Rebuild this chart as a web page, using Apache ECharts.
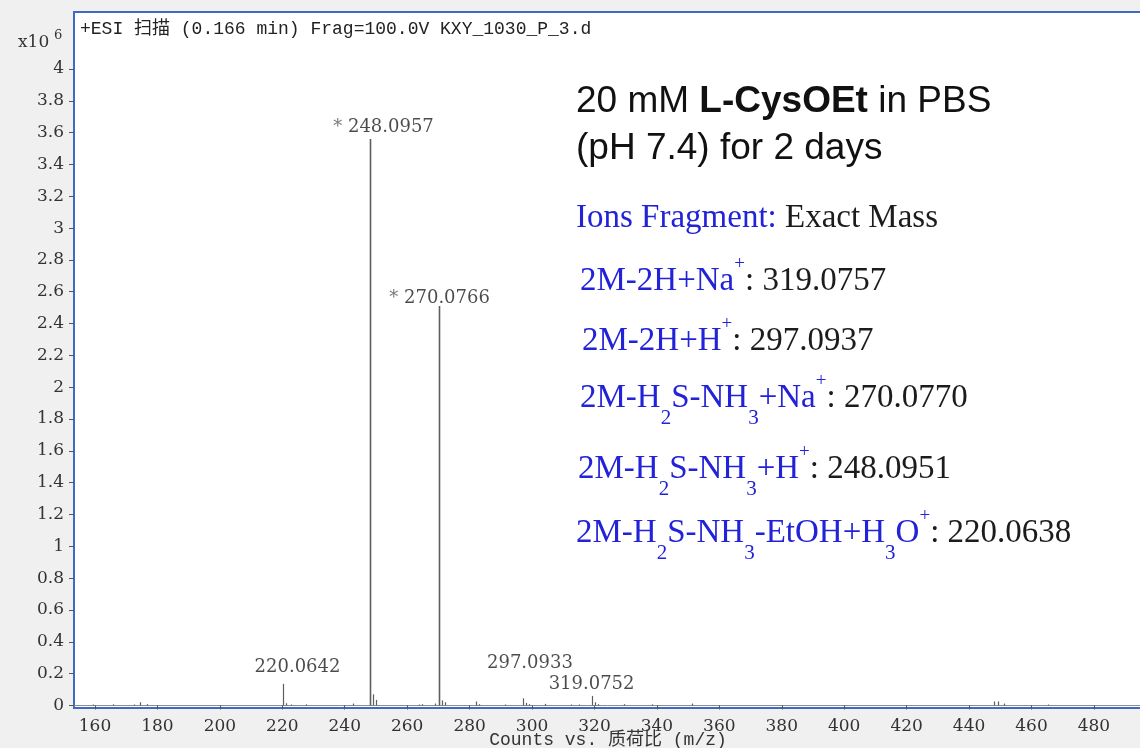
<!DOCTYPE html>
<html>
<head>
<meta charset="utf-8">
<script src="https://cdn.jsdelivr.net/npm/echarts@6/dist/echarts.min.js"></script>
<style>
  html, body { margin: 0; padding: 0; background: #f0f0f0; }
  #main { width: 1140px; height: 748px; }
</style>
</head>
<body>
<div id="main"></div>
<script>
// Centroided peaks of the ESI(+) scan: m/z and abundance (counts x10^6)
const mzValues = [
  159.5, 165.7, 172.5, 174.4, 176.6,
  220.0642, 221.07, 222.9, 227.6, 242.6,
  248.0957, 249.10, 250.09, 263.9, 264.7, 268.9,
  270.0766, 271.08, 272.07, 282.1, 283.1, 291.3,
  297.0933, 298.1, 299.1, 304.2, 312.6, 315.0,
  319.0752, 320.08, 321.1, 329.4, 338.5, 351.3,
  448.1, 449.2, 451.1, 465.4
];
const intensities = [
  0.006, 0.007, 0.006, 0.020, 0.008,
  0.136, 0.014, 0.006, 0.007, 0.012,
  3.56, 0.070, 0.035, 0.006, 0.008, 0.012,
  2.51, 0.032, 0.020, 0.025, 0.008, 0.006,
  0.045, 0.016, 0.008, 0.010, 0.006, 0.006,
  0.060, 0.020, 0.008, 0.008, 0.007, 0.012,
  0.025, 0.025, 0.012, 0.006
];

// Peaks that carry an m/z annotation; starred ones are the marked ions
const labeledMz = [220.0642, 248.0957, 270.0766, 297.0933, 319.0752];
const labeledStar = [false, true, true, false, false];

// Axis ticks
const xTicks = [160, 180, 200, 220, 240, 260, 280, 300, 320, 340, 360, 380, 400, 420, 440, 460, 480];
const yTicks = [0, 0.2, 0.4, 0.6, 0.8, 1, 1.2, 1.4, 1.6, 1.8, 2, 2.2, 2.4, 2.6, 2.8, 3, 3.2, 3.4, 3.6, 3.8, 4];

// Visible axis window
const xMin = 153.27, xMax = 495.4;
const yMin = -0.016, yMax = 4.358;

const peakData = mzValues.map((mz, i) => [mz, intensities[i]]);

// label placement around each annotated peak (px)
const labelOffsets = [[15, -16], [13.5, -12], [1, -7.5], [7, -35], [0, -12]];

const labelData = labeledMz.map((mz, i) => {
  const k = mzValues.indexOf(mz);
  return {
    value: [mz, intensities[k]],
    star: labeledStar[i],
    label: { offset: labelOffsets[i] }
  };
});

const serifFont = 'DejaVu Serif';
const blue = '#2222d8';
const ink = '#1c1c1c';

function formulaStyles() {
  return {
    a:   { fontFamily: 'Liberation Serif', fontSize: 33, lineHeight: 33, padding: [12, 0, 0, 0], verticalAlign: 'top', fill: blue, color: blue },
    b:   { fontFamily: 'Liberation Serif', fontSize: 33, lineHeight: 33, padding: [12, 0, 0, 0], verticalAlign: 'top', fill: ink, color: ink },
    sub: { fontFamily: 'Liberation Serif', fontSize: 21, lineHeight: 21, padding: [38, 0, 0, 0], verticalAlign: 'top', fill: blue, color: blue },
    sup: { fontFamily: 'Liberation Serif', fontSize: 19, lineHeight: 19, padding: [2, 0, 0, 0], verticalAlign: 'top', fill: blue, color: blue }
  };
}

function formulaLine(x, y, text) {
  return {
    type: 'text', x: x, y: y, z: 100,
    style: { text: text, rich: formulaStyles(), align: 'left', verticalAlign: 'top' }
  };
}

const chart = echarts.init(document.getElementById('main'), null, { renderer: 'canvas' });

chart.setOption({
  backgroundColor: '#f0f0f0',
  animation: false,
  grid: {
    left: 74, top: 12, right: -2, bottom: 40,
    outerBoundsMode: 'none',
    containLabel: false,
    show: true, backgroundColor: '#ffffff',
    borderColor: '#3b6bc3', borderWidth: 2
  },
  xAxis: {
    type: 'value', min: xMin, max: xMax, offset: 2,
    axisLine: { show: true, lineStyle: { color: '#8c8c8c', width: 1 } },
    axisTick: { show: true, length: 4, customValues: xTicks, lineStyle: { color: '#555' } },
    axisLabel: { customValues: xTicks, margin: 8, fontFamily: serifFont, fontSize: 17, color: '#333' },
    splitLine: { show: false },
    name: 'Counts vs. 质荷比 (m/z)',
    nameLocation: 'middle', nameGap: 21, nameMoveOverlap: false,
    nameTextStyle: { fontFamily: 'Liberation Mono, Noto Sans CJK SC', fontSize: 18, color: '#333' }
  },
  yAxis: {
    type: 'value', min: yMin, max: yMax,
    axisLine: { show: false },
    axisTick: { show: true, length: 5, customValues: yTicks, lineStyle: { color: '#555' } },
    axisLabel: {
      customValues: yTicks, margin: 10, fontFamily: serifFont, fontSize: 17, color: '#333',
      formatter: v => String(Math.round(v * 10) / 10)
    },
    splitLine: { show: false }
  },
  series: [
    {
      type: 'custom',
      clip: true,
      data: peakData,
      encode: { x: 0, y: 1 },
      renderItem: function (params, api) {
        const mz = api.value(0), h = api.value(1);
        const p0 = api.coord([mz, 0]);
        const p1 = api.coord([mz, h]);
        const x = Math.round(p0[0]) + 0.5;
        return {
          type: 'line',
          shape: { x1: x, y1: p0[1], x2: x, y2: p1[1] },
          style: { stroke: '#5e5e5e', lineWidth: h > 1 ? 1.6 : 1.2 }
        };
      }
    },
    {
      type: 'scatter',
      symbolSize: 0,
      silent: true,
      data: labelData,
      label: {
        show: true,
        position: 'inside',
        align: 'center',
        verticalAlign: 'middle',
        formatter: function (p) {
          const txt = p.value[0].toFixed(4);
          return p.data.star ? '{s|* }{v|' + txt + '}' : '{v|' + txt + '}';
        },
        rich: {
          s: { fontFamily: serifFont, fontSize: 18, color: '#555' },
          v: { fontFamily: serifFont, fontSize: 18, color: '#1e1e1e' }
        }
      }
    }
  ],
  graphic: [
    // scan header
    {
      type: 'text', x: 80, y: 29, z: 100,
      style: {
        text: '+ESI 扫描 (0.166 min) Frag=100.0V KXY_1030_P_3.d',
        font: '18px "Liberation Mono", "Noto Sans CJK SC"', fill: '#222',
        align: 'left', verticalAlign: 'middle'
      }
    },
    // abundance multiplier
    {
      type: 'text', x: 18, y: 43, z: 100,
      style: { text: 'x10', font: '17px "DejaVu Serif"', fill: '#333', align: 'left', verticalAlign: 'middle' }
    },
    {
      type: 'text', x: 54, y: 36, z: 100,
      style: { text: '6', font: '13px "DejaVu Serif"', fill: '#333', align: 'left', verticalAlign: 'middle' }
    },
    // sample description
    {
      type: 'text', x: 576, y: 102, z: 100,
      style: {
        text: '{n|20 mM }{bo|L-CysOEt}{n| in PBS}',
        align: 'left', verticalAlign: 'middle',
        rich: {
          n:  { fontFamily: 'Liberation Sans', fontSize: 37, fill: '#111', color: '#111' },
          bo: { fontFamily: 'Liberation Sans', fontSize: 37, fontWeight: 'bold', fill: '#111', color: '#111' }
        }
      }
    },
    {
      type: 'text', x: 576, y: 149, z: 100,
      style: {
        text: '(pH 7.4) for 2 days',
        font: '37px "Liberation Sans"', fill: '#111',
        align: 'left', verticalAlign: 'middle'
      }
    },
    // ion list
    {
      type: 'text', x: 576, y: 218, z: 100,
      style: {
        text: '{a|Ions Fragment:}{b| Exact Mass}',
        align: 'left', verticalAlign: 'middle',
        rich: {
          a: { fontFamily: 'Liberation Serif', fontSize: 33, fill: blue, color: blue },
          b: { fontFamily: 'Liberation Serif', fontSize: 33, fill: ink, color: ink }
        }
      }
    },
    formulaLine(580, 253, '{a|2M-2H+Na}{sup|+}{b|: 319.0757}'),
    formulaLine(582, 313, '{a|2M-2H+H}{sup|+}{b|: 297.0937}'),
    formulaLine(580, 370, '{a|2M-H}{sub|2}{a|S-NH}{sub|3}{a|+Na}{sup|+}{b|: 270.0770}'),
    formulaLine(578, 441, '{a|2M-H}{sub|2}{a|S-NH}{sub|3}{a|+H}{sup|+}{b|: 248.0951}'),
    formulaLine(576, 505, '{a|2M-H}{sub|2}{a|S-NH}{sub|3}{a|-EtOH+H}{sub|3}{a|O}{sup|+}{b|: 220.0638}')
  ]
});
</script>
</body>
</html>
